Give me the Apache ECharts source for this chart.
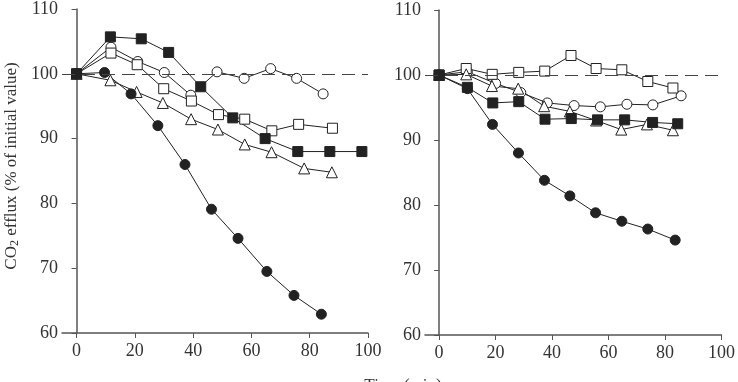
<!DOCTYPE html>
<html>
<head>
<meta charset="utf-8">
<script src="https://cdn.jsdelivr.net/npm/echarts@6/dist/echarts.min.js"></script>
<style>
  html, body { margin: 0; padding: 0; background: #fff; }
  #chart { width: 738px; height: 382px; }
</style>
</head>
<body>
<div id="chart"></div>
<script>
// [time (min), CO2 efflux (% of initial)]
const leftFilledCircle = [[0,100],[9.6,100.2],[18.7,96.9],[27.9,92.0],[37.2,86.0],[46.3,79.1],[55.4,74.6],[65.3,69.5],[74.6,65.8],[84.0,62.9]];
const leftFilledSquare = [[0,100],[11.6,105.7],[22.2,105.4],[31.6,103.3],[42.6,98.0],[53.6,93.2],[64.7,90.0],[75.9,88.0],[86.9,88.0],[97.9,88.0]];
const leftOpenCircle = [[0,100],[11.8,104.1],[21.0,101.9],[30.1,100.2],[39.2,96.7],[48.2,100.3],[57.5,99.3],[66.6,100.8],[75.5,99.3],[84.6,96.9]];
const leftOpenSquare = [[0,100],[11.8,103.2],[20.8,101.4],[29.9,97.7],[39.4,95.8],[48.7,93.7],[57.7,93.0],[67.0,91.2],[76.2,92.2],[87.8,91.6]];
const leftTriangle = [[0,100],[11.6,99.0],[20.6,97.2],[29.6,95.5],[39.3,93.0],[48.5,91.4],[57.7,89.1],[66.9,87.9],[78.1,85.4],[87.6,84.8]];

const rightFilledCircle = [[0,100],[10.0,97.9],[18.9,92.4],[28.1,88.0],[37.3,83.8],[46.3,81.4],[55.4,78.8],[64.7,77.5],[73.9,76.3],[83.6,74.6]];
const rightFilledSquare = [[0,100],[10.0,98.1],[19.0,95.7],[28.2,95.9],[37.5,93.2],[46.8,93.3],[56.1,93.1],[65.7,93.1],[75.6,92.7],[84.5,92.5]];
const rightOpenSquare = [[0,100],[9.6,101.0],[18.8,100.1],[28.2,100.4],[37.4,100.6],[46.7,103.0],[55.6,101.0],[64.7,100.8],[73.9,99.0],[82.8,98.0]];
const rightOpenCircle = [[0,100],[10.0,100.5],[20.0,98.7],[28.9,97.3],[38.3,95.7],[47.8,95.3],[57.1,95.1],[66.5,95.5],[75.7,95.4],[85.7,96.8]];
const rightTriangle = [[0,100],[9.6,100.1],[18.7,98.3],[28.0,97.9],[37.2,95.2],[46.3,94.4],[55.6,93.0],[64.5,91.6],[73.6,92.4],[82.8,91.5]];

const xTicks = [0, 20, 40, 60, 80, 100];
const baseline = 100;

const ink = '#222';
const axisGray = '#555';
const font = 'Liberation Serif';

function xAxisOf(idx) {
  return {
    type: 'value', gridIndex: idx, min: -5, max: 100,
    axisLine: { lineStyle: { color: axisGray, width: 1.5 } },
    axisTick: { length: 5, customValues: xTicks, lineStyle: { color: axisGray } },
    axisLabel: { customValues: xTicks, color: '#333', fontFamily: font, fontSize: 18, margin: 9 },
    splitLine: { show: false }
  };
}
function yAxisOf(idx) {
  return {
    type: 'value', gridIndex: idx, min: 60, max: 110, interval: 10,
    axisLine: { show: true, lineStyle: { color: axisGray, width: 1.5 } },
    axisTick: { show: true, length: 5, lineStyle: { color: axisGray } },
    axisLabel: { color: '#333', fontFamily: font, fontSize: 18, margin: 4 },
    splitLine: { show: false }
  };
}
function mk(data, idx, symbol, filled, size, withRef) {
  const s = {
    type: 'line', data: data, xAxisIndex: idx, yAxisIndex: idx,
    symbol: symbol, symbolSize: size, showAllSymbol: true,
    lineStyle: { color: ink, width: 1 },
    itemStyle: filled ? { color: ink, borderColor: ink, borderWidth: 1 }
                      : { color: '#fff', borderColor: ink, borderWidth: 1 },
    z: 3
  };
  if (withRef) {
    s.markLine = {
      silent: true, symbol: 'none', label: { show: false },
      lineStyle: { color: '#444', type: [13, 7], width: 1 },
      data: [{ yAxis: baseline }]
    };
  }
  return s;
}

const chart = echarts.init(document.getElementById('chart'));
chart.setOption({
  animation: false,
  backgroundColor: '#fff',
  grid: [
    { left: 62, top: 5, width: 306, height: 328 },
    { left: 425, top: 10, width: 305, height: 325 }
  ],
  xAxis: [xAxisOf(0), xAxisOf(1)],
  yAxis: [yAxisOf(0), yAxisOf(1)],
  graphic: [
    {
      type: 'text', x: 12, y: 166, rotation: Math.PI / 2,
      style: {
        text: 'CO{sub|2} efflux (% of initial value)',
        fill: '#333', font: '17px "Liberation Serif"',
        align: 'center', verticalAlign: 'middle',
        rich: { sub: { fontSize: 12, fontFamily: font, verticalAlign: 'bottom', padding: [6, 0, 0, 0] } }
      }
    },
    {
      type: 'text', x: 403, y: 377,
      style: { text: 'Time (min)', fill: '#333', font: '17px "Liberation Serif"', align: 'center', verticalAlign: 'top' }
    }
  ],
  series: [
    mk(leftOpenCircle, 0, 'circle', false, 10, true),
    mk(leftOpenSquare, 0, 'rect', false, 10),
    mk(leftTriangle, 0, 'triangle', false, 11),
    mk(leftFilledSquare, 0, 'rect', true, 10),
    mk(leftFilledCircle, 0, 'circle', true, 10),
    mk(rightOpenCircle, 1, 'circle', false, 10, true),
    mk(rightOpenSquare, 1, 'rect', false, 10),
    mk(rightTriangle, 1, 'triangle', false, 11),
    mk(rightFilledSquare, 1, 'rect', true, 10),
    mk(rightFilledCircle, 1, 'circle', true, 10)
  ]
});
</script>
</body>
</html>
